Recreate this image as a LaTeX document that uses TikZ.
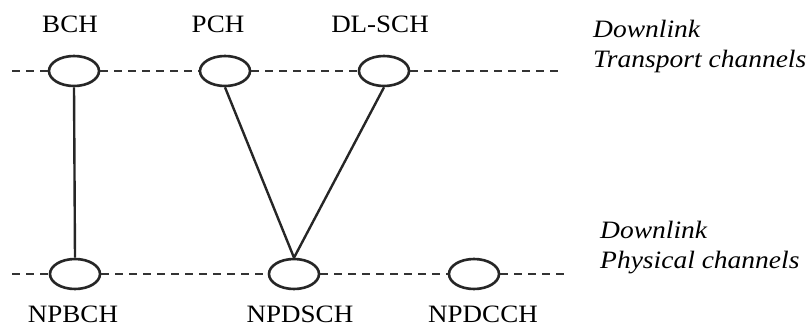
\documentclass[tikz,border=0pt]{standalone}
\usepackage{fontspec}
\setmainfont{Liberation Serif}[FakeStretch=1.08]
\newfontfamily\sideit{Liberation Serif Italic}[FakeStretch=1.1]
\usetikzlibrary{shapes.geometric}
\begin{document}
\begin{tikzpicture}[x=1pt,y=-1pt,
  chan/.style={draw=black!85,line width=2.6pt,ellipse,fill=white,minimum width=50pt,minimum height=30pt,inner sep=0pt},
  dline/.style={draw=black!80,line width=2.4pt,dash pattern=on 8pt off 6pt},
  link/.style={draw=black!85,line width=2.4pt},
  lbl/.style={font=\fontsize{25}{27}\selectfont,inner sep=0pt,anchor=base},
  side/.style={font=\sideit\fontsize{25}{30}\selectfont,align=left,anchor=base west,inner sep=0pt}]
\useasboundingbox (0,0) rectangle (810,329);
% top channels
\node[chan] (BCH) at (74,71) {};
\node[chan] (PCH) at (225,71) {};
\node[chan] (DLSCH) at (384,71) {};
% bottom channels
\node[chan] (NPBCH) at (75,274) {};
\node[chan] (NPDSCH) at (294,274) {};
\node[chan] (NPDCCH) at (474,274) {};
% dashed lines
\coordinate (tl) at (12,71);
\coordinate (tr) at (560,71);
\coordinate (bl) at (12,274);
\coordinate (br) at (570,274);
\draw[dline] (tl) -- (BCH.west);
\draw[dline] (BCH.east) -- (PCH.west);
\draw[dline] (PCH.east) -- (DLSCH.west);
\draw[dline] (DLSCH.east) -- (tr);
\draw[dline] (bl) -- (NPBCH.west);
\draw[dline] (NPBCH.east) -- (NPDSCH.west);
\draw[dline] (NPDSCH.east) -- (NPDCCH.west);
\draw[dline] (NPDCCH.east) -- (br);
% links
\draw[link] (BCH.south) -- (NPBCH.north);
\draw[link] (PCH.south) -- (NPDSCH.north);
\draw[link] (DLSCH.south) -- (NPDSCH.north);
% labels
\node[lbl] (tBCH) at (70,33) {BCH};
\node[lbl] (tPCH) at (218,33) {PCH};
\node[lbl] (tDLSCH) at (380,33) {DL-SCH};
\node[lbl] (tNPBCH) at (73,322) {NPBCH};
\node[lbl] (tNPDSCH) at (300,322) {NPDSCH};
\node[lbl] (tNPDCCH) at (483,322) {NPDCCH};
\node[side] (ttr) at (593,67) {Downlink\\Transport channels};
\node[side] (tph) at (600,268) {Downlink\\Physical channels};
\end{tikzpicture}
\end{document}
